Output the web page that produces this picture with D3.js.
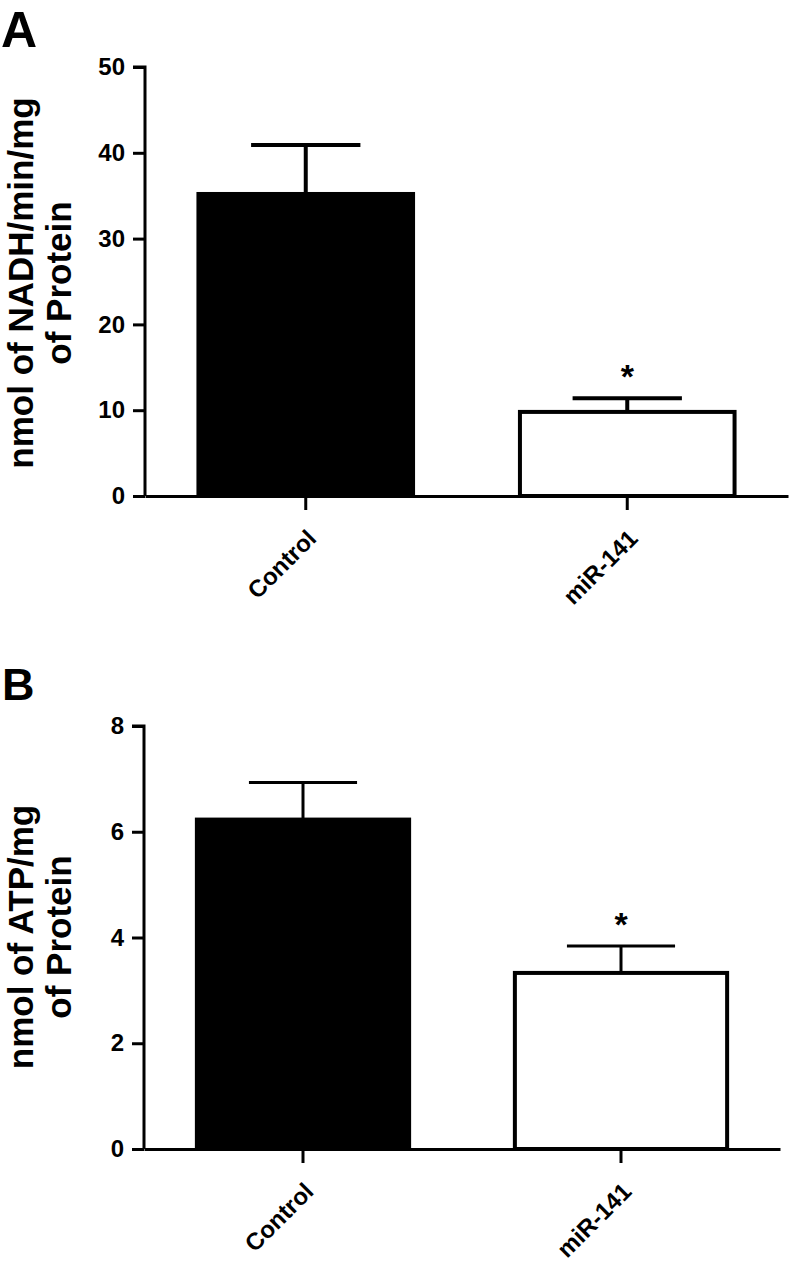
<!DOCTYPE html>
<html>
<head>
<meta charset="utf-8">
<script src="https://cdn.jsdelivr.net/npm/d3@7/dist/d3.min.js"></script>
<style>
  body { margin: 0; background: #fff; }
  text { font-family: "Liberation Sans", Arial, sans-serif; font-weight: bold; fill: #000; }
</style>
</head>
<body>
<script>
// data
const categories = ['Control', 'miR-141'];
const nadhMean = [35.2, 9.8];
const nadhErr = [5.7, 1.6];
const nadhTicks = [0, 10, 20, 30, 40, 50];
const atpMean = [6.23, 3.33];
const atpErr = [0.7, 0.51];
const atpTicks = [0, 2, 4, 6, 8];
const fills = ['#000', '#fff'];
const signif = ['', '*'];

const width = 791, height = 1271;

const svg = d3.select('body').append('svg')
  .attr('width', width)
  .attr('height', height);

function drawPanel(p) {
  const g = svg.append('g');

  const y = d3.scaleLinear().domain([0, p.ymax]).range([p.bottom, p.top]);
  const x = d3.scaleBand().domain(categories)
    .range([p.left, p.right])
    .paddingInner(0.32)
    .paddingOuter(0.16);

  // panel letter
  g.append('text')
    .attr('x', p.letterX)
    .attr('y', p.letterY)
    .attr('font-size', p.letterSize)
    .text(p.letter);

  // y axis
  const yAxis = d3.axisLeft(y).tickValues(p.ticks).tickSize(12).tickPadding(8).tickFormat(d3.format('d'));
  const ya = g.append('g').attr('transform', `translate(${p.left},0)`).call(yAxis);
  ya.select('.domain').attr('stroke-width', 3).attr('d', `M-12,${p.top}H0V${p.bottom}`);
  ya.selectAll('.tick line').attr('stroke-width', 3);
  ya.selectAll('.tick text').attr('font-size', 24).attr('font-family', '"Liberation Sans", Arial, sans-serif').attr('font-weight', 'bold');

  // y label
  g.append('text')
    .attr('transform', `translate(${p.lab1X},${p.labY}) rotate(-90)`)
    .attr('text-anchor', 'middle')
    .attr('font-size', 35)
    .text(p.label1);
  g.append('text')
    .attr('transform', `translate(${p.lab2X},${p.labY}) rotate(-90)`)
    .attr('text-anchor', 'middle')
    .attr('font-size', 35)
    .text(p.label2);

  // error bars
  const cap = x.bandwidth() * 0.5;
  const eb = g.selectAll('.eb').data(categories).enter().append('g');
  eb.append('line')
    .attr('x1', d => x(d) + x.bandwidth() / 2)
    .attr('x2', d => x(d) + x.bandwidth() / 2)
    .attr('y1', (d, i) => y(p.mean[i]))
    .attr('y2', (d, i) => y(p.mean[i] + p.err[i]))
    .attr('stroke', '#000').attr('stroke-width', p.ebWidth);
  eb.append('line')
    .attr('x1', d => x(d) + x.bandwidth() / 2 - cap / 2)
    .attr('x2', d => x(d) + x.bandwidth() / 2 + cap / 2)
    .attr('y1', (d, i) => y(p.mean[i] + p.err[i]))
    .attr('y2', (d, i) => y(p.mean[i] + p.err[i]))
    .attr('stroke', '#000').attr('stroke-width', p.ebWidth);

  // bars
  g.selectAll('.bar').data(categories).enter().append('rect')
    .attr('x', d => x(d) + 2)
    .attr('width', x.bandwidth() - 4)
    .attr('y', (d, i) => y(p.mean[i]))
    .attr('height', (d, i) => p.bottom - y(p.mean[i]))
    .attr('fill', (d, i) => fills[i])
    .attr('stroke', '#000')
    .attr('stroke-width', 4);

  // stars
  g.selectAll('.star').data(categories).enter().append('text')
    .attr('x', d => x(d) + x.bandwidth() / 2)
    .attr('y', (d, i) => y(p.mean[i] + p.err[i]) - 10)
    .attr('text-anchor', 'middle')
    .attr('font-size', 34)
    .text((d, i) => signif[i]);

  // x axis
  const xAxis = d3.axisBottom(x).tickSize(14).tickSizeOuter(0);
  const xa = g.append('g').attr('transform', `translate(0,${p.bottom})`).call(xAxis);
  xa.select('.domain').attr('stroke-width', 3);
  xa.selectAll('.tick line').attr('stroke-width', 3);
  xa.selectAll('.tick text')
    .attr('font-size', 24)
    .attr('font-family', '"Liberation Sans", Arial, sans-serif')
    .attr('font-weight', 'bold')
    .attr('text-anchor', 'end')
    .attr('y', 0).attr('dy', 0)
    .attr('transform', 'translate(12,44) rotate(-45)');
}

drawPanel({
  letter: 'A', letterX: 1, letterY: 47, letterSize: 50,
  top: 67, bottom: 496, left: 145, right: 788, ymax: 50,
  ticks: nadhTicks, mean: nadhMean, err: nadhErr, ebWidth: 4,
  label1: 'nmol of NADH/min/mg', label2: 'of Protein',
  lab1X: 33, lab2X: 71, labY: 283
});

drawPanel({
  letter: 'B', letterX: 2, letterY: 700, letterSize: 45,
  top: 726, bottom: 1149, left: 144, right: 780, ymax: 8,
  ticks: atpTicks, mean: atpMean, err: atpErr, ebWidth: 3,
  label1: 'nmol of ATP/mg', label2: 'of Protein',
  lab1X: 33, lab2X: 71, labY: 937
});
</script>
</body>
</html>
